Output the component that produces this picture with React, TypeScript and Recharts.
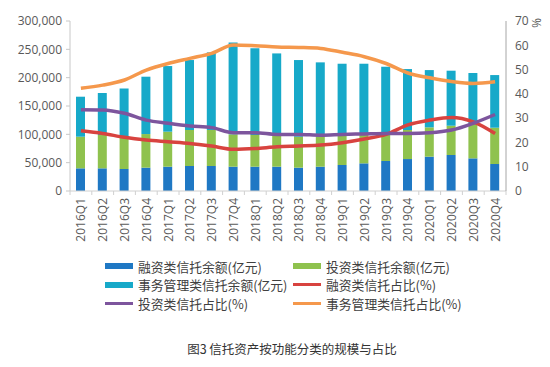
import { ComposedChart, Bar, Line, XAxis, YAxis } from 'recharts';

const quarters = [
  '2016Q1', '2016Q2', '2016Q3', '2016Q4', '2017Q1', '2017Q2', '2017Q3', '2017Q4',
  '2018Q1', '2018Q2', '2018Q3', '2018Q4', '2019Q1', '2019Q2', '2019Q3', '2019Q4',
  '2020Q1', '2020Q2', '2020Q3', '2020Q4',
];

// 余额（亿元）
const financing = [40000, 40000, 38800, 41200, 42900, 44100, 44100, 42900, 42900, 42900, 41200, 42900, 45900, 48800, 52900, 56400, 60600, 63500, 57600, 47600];
const investment = [55800, 58800, 58200, 59300, 61800, 63500, 63500, 57100, 56100, 54700, 54600, 52900, 51700, 50000, 48800, 51200, 51700, 51700, 61800, 64100];
const admin = [70600, 74100, 84100, 101200, 115800, 123500, 137000, 162200, 152700, 145200, 135300, 131200, 127000, 125800, 117600, 107600, 101100, 97100, 88800, 92900];

// 占比（%）
const financingPct = [24.8, 23.7, 22.1, 21.0, 20.3, 19.6, 18.5, 17.2, 17.5, 18.2, 18.5, 18.9, 19.9, 21.4, 23.3, 27.2, 29.2, 30.3, 28.5, 23.7];
const investmentPct = [33.5, 33.4, 32.0, 29.2, 27.9, 26.8, 26.1, 24.0, 24.0, 23.3, 23.3, 23.0, 23.3, 23.5, 23.7, 23.7, 24.0, 25.1, 27.9, 31.5];
const adminPct = [42.3, 43.6, 45.7, 49.8, 52.5, 54.6, 56.7, 60.1, 59.8, 59.3, 59.1, 58.7, 57.1, 55.3, 52.5, 48.6, 46.6, 45.1, 44.3, 45.0];

const leftTicks = [0, 50000, 100000, 150000, 200000, 250000, 300000];
const rightTicks = [0, 10, 20, 30, 40, 50, 60, 70];

const BLUE = '#1f78c4';
const GREEN = '#8fc24e';
const CYAN = '#17a9c9';
const RED = '#d8433f';
const PURPLE = '#7d559d';
const ORANGE = '#f5984c';

const data = quarters.map((q, i) => ({
  q,
  financing: financing[i],
  investment: investment[i],
  admin: admin[i],
  financingPct: financingPct[i],
  investmentPct: investmentPct[i],
  adminPct: adminPct[i],
}));

const legendItems = [
  { name: '融资类信托余额(亿元)', color: BLUE, kind: 'bar' },
  { name: '投资类信托余额(亿元)', color: GREEN, kind: 'bar' },
  { name: '事务管理类信托余额(亿元)', color: CYAN, kind: 'bar' },
  { name: '融资类信托占比(%)', color: RED, kind: 'line' },
  { name: '投资类信托占比(%)', color: PURPLE, kind: 'line' },
  { name: '事务管理类信托占比(%)', color: ORANGE, kind: 'line' },
];

function QuarterTick(props: any) {
  const { x, y, payload, index, visibleTicksCount } = props;
  const half = 10.9;
  return (
    <g>
      <line x1={x - half} x2={x - half} y1={191} y2={195} stroke="#d0d0d0" />
      {index === visibleTicksCount - 1 && (
        <line x1={x + half} x2={x + half} y1={191} y2={195} stroke="#d0d0d0" />
      )}
      <text
        x={x}
        y={y}
        transform={`rotate(-90, ${x}, ${y})`}
        textAnchor="end"
        dominantBaseline="central"
        fill="#595959"
        fontSize={12}
        fontFamily="Open Sans"
      >
        {payload.value}
      </text>
    </g>
  );
}

export default function App() {
  const fmt = (v: number) => v.toLocaleString('en-US');
  return (
    <div style={{ position: 'absolute', left: 0, top: 0, width: 550, height: 367, background: '#fff', fontFamily: 'Open Sans' }}>
      <ComposedChart width={550} height={250} data={data} margin={{ top: 21, right: 0, left: 0, bottom: 0 }}>
        <XAxis
          dataKey="q"
          height={59}
          interval={0}
          tick={<QuarterTick />}
          tickLine={false}
          tickMargin={1}
          axisLine={{ stroke: '#d0d0d0' }}
        />
        <YAxis
          yAxisId="left"
          width={70}
          domain={[0, 300000]}
          ticks={leftTicks}
          tickFormatter={fmt}
          tick={{ fill: '#595959', fontSize: 12 }}
          tickSize={4}
          tickMargin={4}
          tickLine={{ stroke: '#c8c8c8' }}
          axisLine={{ stroke: '#c8c8c8' }}
        />
        <YAxis
          yAxisId="right"
          orientation="right"
          width={44}
          domain={[0, 70]}
          ticks={rightTicks}
          tick={{ fill: '#595959', fontSize: 12 }}
          tickSize={4}
          tickMargin={5}
          tickLine={false}
          axisLine={{ stroke: '#a6a6a6' }}
        />
        <Bar yAxisId="left" dataKey="financing" stackId="a" fill={BLUE} barSize={9} isAnimationActive={false} />
        <Bar yAxisId="left" dataKey="investment" stackId="a" fill={GREEN} barSize={9} isAnimationActive={false} />
        <Bar yAxisId="left" dataKey="admin" stackId="a" fill={CYAN} barSize={9} isAnimationActive={false} />
        <Line yAxisId="right" type="monotone" dataKey="financingPct" stroke={RED} strokeWidth={3.5} dot={false} isAnimationActive={false} />
        <Line yAxisId="right" type="monotone" dataKey="investmentPct" stroke={PURPLE} strokeWidth={3.5} dot={false} isAnimationActive={false} />
        <Line yAxisId="right" type="monotone" dataKey="adminPct" stroke={ORANGE} strokeWidth={3.5} dot={false} isAnimationActive={false} />
      </ComposedChart>

      <div style={{ position: 'absolute', left: 531, top: 16, fontSize: 12, color: '#595959', transform: 'rotate(90deg)', lineHeight: '14px' }}>%</div>

      {legendItems.map((item, i) => {
        const col = i % 2;
        const row = Math.floor(i / 2);
        const left = col === 0 ? 105 : 293;
        const cy = 266 + row * 18.5;
        return (
          <div key={item.name} style={{ position: 'absolute', left, top: cy - 9, height: 18, display: 'flex', alignItems: 'center', whiteSpace: 'nowrap' }}>
            <div style={{ width: 28, height: item.kind === 'bar' ? 6 : 3, background: item.color, marginRight: 5 }} />
            <span style={{ fontFamily: 'Noto Sans CJK SC', fontSize: 12.8, color: '#404040' }}>{item.name}</span>
          </div>
        );
      })}

      <div style={{ position: 'absolute', left: 0, width: 584, top: 340, textAlign: 'center', fontFamily: 'Noto Sans CJK SC', fontSize: 12.5, color: '#333', lineHeight: '18px' }}>
        图3 信托资产按功能分类的规模与占比
      </div>
    </div>
  );
}
